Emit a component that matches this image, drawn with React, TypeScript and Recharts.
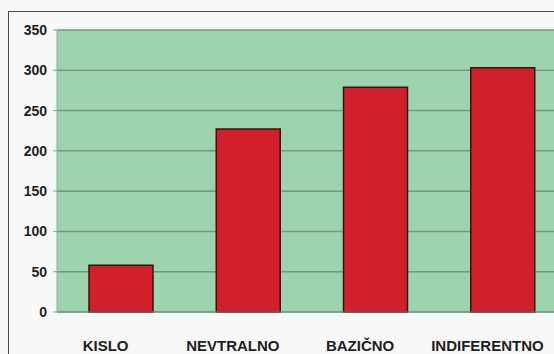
import React from "react";
import { BarChart, Bar, XAxis, YAxis, CartesianGrid } from "recharts";

// kategorije i vrijednosti očitane sa slike
const categories = ["KISLO", "NEVTRALNO", "BAZIČNO", "INDIFERENTNO"];
const values = [58, 227, 279, 303];
const yTicks = [0, 50, 100, 150, 200, 250, 300, 350];

const data = categories.map((name, i) => ({ name, value: values[i] }));

const font = "'Liberation Sans', Arial, sans-serif";

const XTick = (props: any) => {
  const { x, y, payload } = props;
  return (
    <text
      x={x - 15}
      y={y}
      dy="0.71em"
      textAnchor="middle"
      fontFamily={font}
      fontSize={15}
      fontWeight="bold"
      fill="#1e1e1e"
    >
      {payload.value}
    </text>
  );
};

const App: React.FC = () => {
  return (
    <div
      style={{
        position: "fixed",
        left: 0,
        top: 0,
        width: 554,
        height: 354,
        overflow: "hidden",
        background: "#f8f8f8",
      }}
    >
      {/* okvir grafikona */}
      <div
        style={{
          position: "absolute",
          left: 8,
          top: 11,
          width: 700,
          height: 500,
          borderLeft: "1px solid #4a4a4a",
          borderTop: "1px solid #4a4a4a",
        }}
      />
      <div style={{ position: "absolute", left: 0, top: 0 }}>
        <BarChart
          width={580}
          height={354}
          data={data}
          margin={{ top: 30, right: 14, bottom: 0, left: 0 }}
          barSize={64}
        >
          <CartesianGrid
            vertical={false}
            fill="#9dd4ae"
            fillOpacity={1}
            stroke="#6f9a7c"
            strokeWidth={1.5}
          />
          <XAxis
            dataKey="name"
            height={42}
            tickLine={false}
            axisLine={{ stroke: "#6f9a7c" }}
            tickSize={0}
            tickMargin={28}
            interval={0}
            tick={<XTick />}
          />
          <YAxis
            width={57}
            domain={[0, 350]}
            ticks={yTicks}
            interval={0}
            tickSize={4}
            tickMargin={6}
            tickLine={{ stroke: "#8aa894" }}
            axisLine={{ stroke: "#8fae98" }}
            tick={{
              fontFamily: font,
              fontSize: 14,
              fontWeight: "bold",
              fill: "#1e1e1e",
            }}
          />
          <Bar
            dataKey="value"
            fill="#d11f2c"
            stroke="#3d1010"
            strokeWidth={1.5}
            isAnimationActive={false}
          />
        </BarChart>
      </div>
    </div>
  );
};

export default App;
